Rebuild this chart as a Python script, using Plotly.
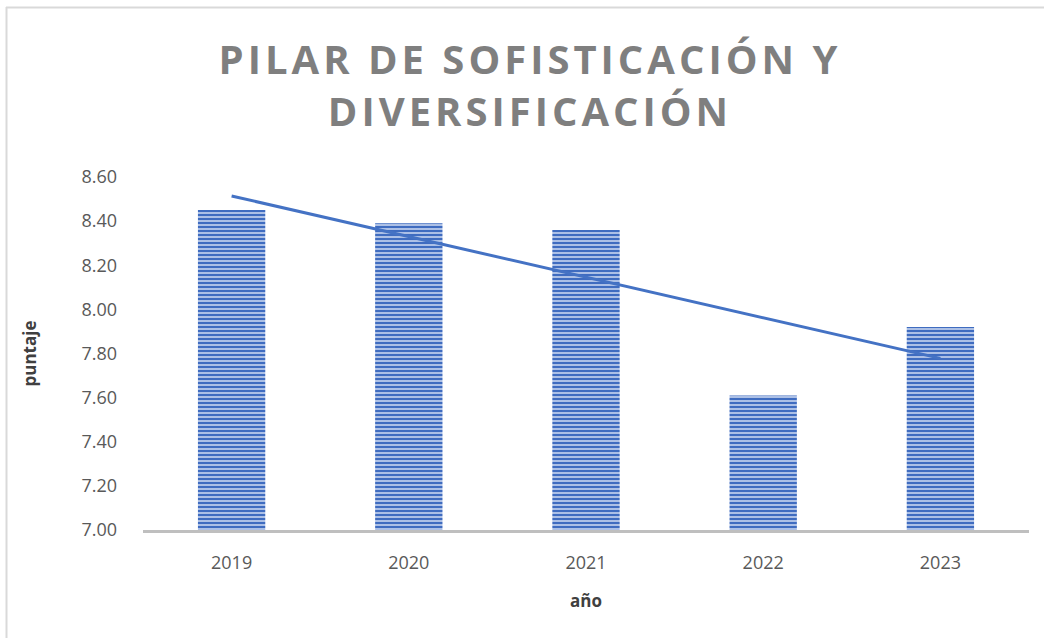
import plotly.graph_objects as go
import numpy as np

years = ["2019", "2020", "2021", "2022", "2023"]
scores = [8.45, 8.39, 8.36, 7.61, 7.92]
y_ticks = [7.00, 7.20, 7.40, 7.60, 7.80, 8.00, 8.20, 8.40, 8.60]

title_text = ('<span style="letter-spacing:4px">PILAR DE SOFISTICACIÓN Y</span><br>'
              '<span style="letter-spacing:4px">DIVERSIFICACIÓN</span>')

# linear trend (least squares) computed from data
xi = np.arange(len(scores))
slope, intercept = np.polyfit(xi, scores, 1)
trend = slope * xi + intercept

W, H = 1044, 638
ML, MR, MT, MB = 143, 15, 177, 108
PW, PH = W - ML - MR, H - MT - MB

blue = "#4472C4"
font_family = "Open Sans, Noto Sans, sans-serif"

fig = go.Figure()
fig.add_trace(go.Bar(
    x=years, y=scores,
    marker=dict(
        color="#c8d5f0",
        line=dict(width=0),
        pattern=dict(shape="-", fgcolor="#3f6cc0", bgcolor="#c8d5f0", size=4, solidity=0.6, fillmode="replace"),
    ),
    showlegend=False,
))
fig.add_trace(go.Scatter(
    x=years, y=trend, mode="lines",
    line=dict(color=blue, width=3),
    showlegend=False,
))

def px_to_paper_x(px):
    return (px - ML) / PW

def px_to_paper_y(py):
    return (H - MB - py) / PH

# outer frame lines (top and left)
fig.add_shape(type="line", xref="paper", yref="paper",
              x0=px_to_paper_x(6), x1=px_to_paper_x(1050),
              y0=px_to_paper_y(7.5), y1=px_to_paper_y(7.5),
              line=dict(color="#d9d9d9", width=2))
fig.add_shape(type="line", xref="paper", yref="paper",
              x0=px_to_paper_x(6.5), x1=px_to_paper_x(6.5),
              y0=px_to_paper_y(7), y1=px_to_paper_y(645),
              line=dict(color="#d9d9d9", width=2))

fig.update_layout(
    width=W, height=H,
    margin=dict(l=ML, r=MR, t=MT, b=MB, autoexpand=False),
    paper_bgcolor="white", plot_bgcolor="white",
    bargap=0.62,
    title=dict(
        text=title_text,
        x=(530 - ML) / PW, xanchor="center", xref="paper",
        y=1 - 74 / H, yref="container", yanchor="top",
        font=dict(family=font_family, size=40, color="#7f7f7f", weight="bold"),
    ),
    font=dict(family=font_family, color="#595959"),
)

fig.update_xaxes(
    showline=True, linecolor="#bfbfbf", linewidth=3,
    ticks="", showgrid=False, automargin=False,
    tickfont=dict(size=18, color="#595959"),
    ticklabelstandoff=14,
    title=dict(text="año", font=dict(size=17, color="#404040", weight="bold"), standoff=23),
)
fig.update_yaxes(
    range=[7.0, 8.6], tickvals=y_ticks,
    ticktext=[f"{v:.2f}" for v in y_ticks],
    showgrid=False, zeroline=False, showline=False, ticks="", automargin=False,
    tickfont=dict(size=18, color="#595959"),
    ticklabelstandoff=25,
    title=dict(text="puntaje", font=dict(size=17, color="#404040", weight="bold"), standoff=40),
)

fig.write_html("out.html", config={"displayModeBar": False},
               post_script="document.body.style.margin='0';")
